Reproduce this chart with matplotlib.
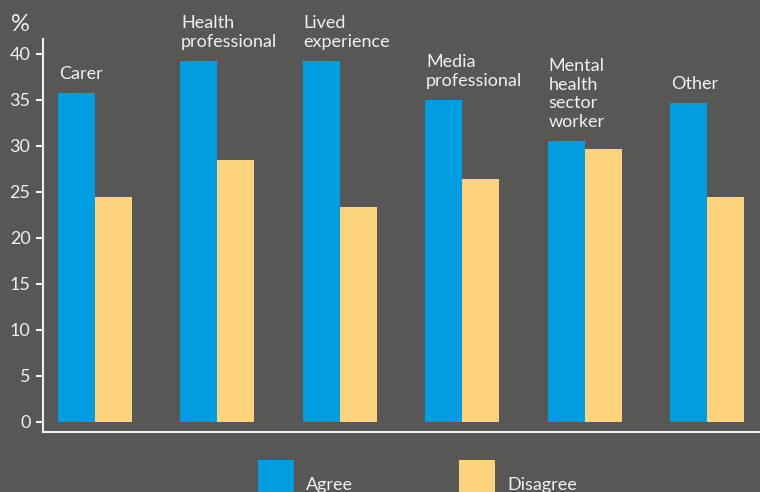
import matplotlib
matplotlib.use("Agg")
import matplotlib.pyplot as plt
from matplotlib.patches import Rectangle

BG = "#575755"
BLUE = "#009ee0"
YELLOW = "#fdd27d"
TXT = "#f0f0f0"

categories = ["Carer", "Health\nprofessional", "Lived\nexperience", "Media\nprofessional",
              "Mental\nhealth\nsector\nworker", "Other"]
agree = [35.7, 39.2, 39.2, 35.0, 30.5, 34.6]
disagree = [24.4, 28.5, 23.3, 26.4, 29.6, 24.4]
yticks = [0, 5, 10, 15, 20, 25, 30, 35, 40]

plt.rcParams["font.family"] = ["Lato", "DejaVu Sans"]

fig = plt.figure(figsize=(7.6, 4.92), dpi=100)
fig.patch.set_facecolor(BG)
ax = fig.add_axes([43 / 760, 60.3 / 492, 1 - 43 / 760, (453 - 60.3) / 492])
ax.set_facecolor(BG)

x = list(range(len(categories)))
w = 0.302
ax.bar([i - w for i in x], agree, width=w, align="edge", color=BLUE, linewidth=0)
ax.bar(x, disagree, width=w, align="edge", color=YELLOW, linewidth=0)

for i, (lab, v) in enumerate(zip(categories, agree)):
    ax.annotate(lab, xy=(i - w, v), xytext=(0.5, 8), textcoords="offset points",
                ha="left", va="bottom", fontsize=13, color=TXT, linespacing=1.2)

ax.set_xlim(-0.425, 5.433)
ax.set_ylim(-1.09, 41.6)
ax.set_xticks([])
ax.set_yticks(yticks)
ax.tick_params(axis="y", colors=TXT, labelsize=13, length=5, width=1.5, pad=4)
for s in ["top", "right"]:
    ax.spines[s].set_visible(False)
for s in ["left", "bottom"]:
    ax.spines[s].set_color(TXT)
    ax.spines[s].set_linewidth(1.5)

fig.text(11 / 760, 1 - 31 / 492, "%", fontsize=17, color=TXT, ha="left", va="baseline")

# legend drawn at the bottom (cut off by the figure edge as in the original)
for x0, col, lab in [(258, BLUE, "Agree"), (459, YELLOW, "Disagree")]:
    fig.patches.append(Rectangle((x0 / 760, 0), 36 / 760, 32 / 492, transform=fig.transFigure,
                                 facecolor=col, linewidth=0))
    fig.text((x0 + 48) / 760, 1 - 490 / 492, lab, fontsize=13, color=TXT,
             ha="left", va="baseline")

fig.savefig("out.png", dpi=100, facecolor=BG)
